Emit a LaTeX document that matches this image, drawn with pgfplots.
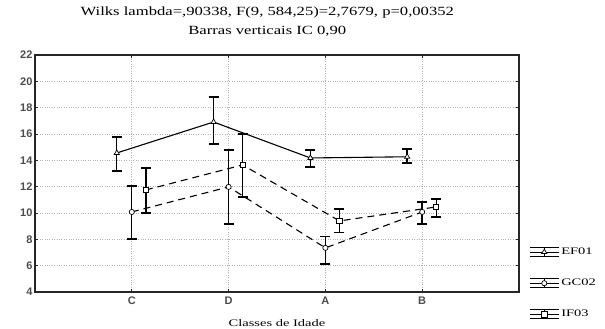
\documentclass[border=0pt]{standalone}
\usepackage{pgfplots}
\pgfplotsset{compat=1.18}
\usepackage{fontspec}
\setmainfont{Liberation Serif}
\newfontfamily\widefont[FakeStretch=1.33]{Liberation Serif}
\newfontfamily\widerfont[FakeStretch=1.45]{Liberation Serif}
\newfontfamily\tickfont{Liberation Sans}
\begin{document}
\begin{tikzpicture}
\path[use as bounding box] (-35pt,-37pt) rectangle (570pt,292pt);
\begin{axis}[
 scale only axis, width=484pt, height=237pt,
 xmin=-1, xmax=4, ymin=4, ymax=22,
 xtick={0,1,2,3}, xticklabels={C,D,A,B},
 ytick={4,6,...,22},
 /pgf/number format/assume math mode=true,
 grid=major, grid style={dotted, gray!60, line width=0.7pt},
 axis line style={line width=1.3pt, black!85},
 tick align=inside, major tick length=3pt, tick style={black!85, line width=0.9pt},
 tick label style={font=\tickfont\bfseries\fontsize{11}{12}\selectfont, text=black!70},
 yticklabel style={xshift=1pt},
 xticklabel style={yshift=-1pt},
 xlabel={Classes de Idade},
 xlabel style={at={(axis description cs:0.5,0)}, anchor=center, yshift=-31pt, font=\widerfont\fontsize{10}{12}\selectfont},
 title={Wilks lambda=,90338, F(9, 584,25)=2,7679, p=0,00352\\Barras verticais IC 0,90},
 title style={at={(0.48,1)}, anchor=south, yshift=9pt, align=center, font=\widefont\fontsize{12.5}{19}\selectfont},
 legend style={at={(1.021,0.195)}, anchor=north west, draw=none, fill=none, inner sep=0pt,
   font=\widerfont\fontsize{10}{11}\selectfont, row sep=19pt},
 legend cell align=left,
 legend image code/.code={
   \draw[solid,black,line width=0.9pt] (0pt,4.5pt) -- (29pt,4.5pt);
   \draw[solid,black,line width=0.9pt] (0pt,-4.5pt) -- (29pt,-4.5pt);
   \draw[solid,black,line width=0.9pt] (14.5pt,-4.5pt) -- (14.5pt,4.5pt);
   \draw[solid,black,line width=0.9pt] (0pt,0pt) -- (29pt,0pt);
   \draw[#1,solid] plot coordinates {(14.5pt,0pt)};
 },
 every axis plot/.append style={black, line width=1.1pt, mark size=3pt,
   mark options={solid, fill=white, line width=0.7pt},
   error bars/error bar style={solid, line width=1.4pt},
   error bars/error mark options={rotate=90, mark size=5pt, line width=1.4pt}},
]
\addplot[solid, mark=triangle*, error bars/.cd, y dir=both, y explicit] coordinates {
 (-0.155,14.56) += (0,1.21) -= (0,1.37)
 (0.845,16.91) += (0,1.89) -= (0,1.67)
 (1.845,14.18) += (0,0.61) -= (0,0.68)
 (2.845,14.27) += (0,0.59) -= (0,0.47)
};
\addlegendentry{EF01}
\addplot[dash pattern=on 7pt off 5pt, mark=*, mark size=2.6pt, error bars/.cd, y dir=both, y explicit] coordinates {
 (0,10.08) += (0,1.97) -= (0,2.05)
 (1,11.98) += (0,2.81) -= (0,2.81)
 (2,7.35) += (0,0.85) -= (0,1.22)
 (3,10.08) += (0,0.76) -= (0,0.91)
};
\addlegendentry{GC02}
\addplot[dash pattern=on 7pt off 5pt, mark=square*, mark size=2.6pt, error bars/.cd, y dir=both, y explicit] coordinates {
 (0.145,11.75) += (0,1.67) -= (0,1.75)
 (1.145,13.65) += (0,2.35) -= (0,2.43)
 (2.145,9.4) += (0,0.9) -= (0,0.9)
 (3.145,10.46) += (0,0.61) -= (0,0.76)
};
\addlegendentry{IF03}
\end{axis}
\end{tikzpicture}
\end{document}
